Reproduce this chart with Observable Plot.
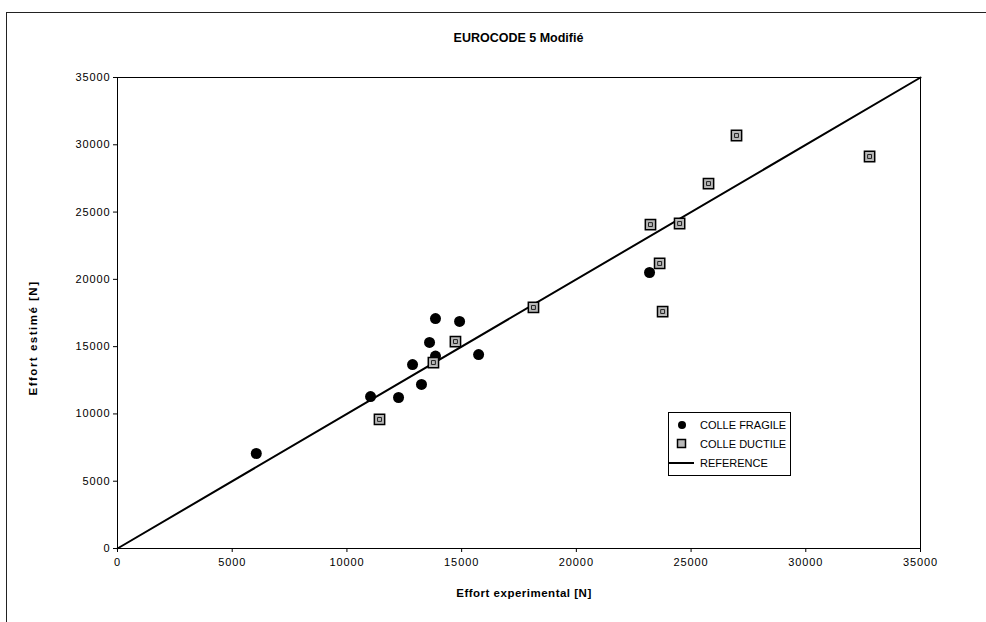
<!DOCTYPE html>
<html>
<head>
<meta charset="utf-8">
<script src="https://cdn.jsdelivr.net/npm/d3@7"></script>
<script src="https://cdn.jsdelivr.net/npm/@observablehq/plot@0.6"></script>
<style>
  html, body { margin: 0; padding: 0; background: #fff; }
  #wrap { position: relative; width: 986px; height: 622px; font-family: "Liberation Sans", Arial, sans-serif; }
  #frame { position: absolute; left: 6px; top: 12px; width: 986px; height: 620px; border-top: 1px solid #222; border-left: 1px solid #222; }
  #title { position: absolute; left: 0; width: 1037px; top: 31px; text-align: center; font-weight: bold; font-size: 12.5px; color: #000; }
  #legend { position: absolute; left: 668px; top: 412px; width: 121px; height: 62px; border: 1px solid #000; background: #fff; font-size: 11px; }
  .row { position: absolute; left: 0; height: 16px; line-height: 16px; }
  .row span { position: absolute; left: 31px; white-space: nowrap; }
  svg.plot { position: absolute; left: 0; top: 0; }
</style>
</head>
<body>
<div id="wrap">
  <div id="frame"></div>
  <div id="title">EUROCODE 5 Modifié</div>
</div>
<script>
// Data
const fragileX = [6050, 11030, 12250, 12860, 13250, 13600, 13860, 13860, 14910, 15740, 23190];
const fragileY = [7060, 11290, 11220, 13670, 12190, 15310, 17090, 14300, 16870, 14410, 20510];
const ductileX = [11420, 13770, 14730, 18130, 23230, 23630, 23760, 24500, 25760, 26980, 32780];
const ductileY = [9590, 13820, 15380, 17910, 24070, 21180, 17610, 24150, 27120, 30690, 29130];
const refX = [0, 35000];
const refY = [0, 35000];
const xTicks = [0, 5000, 10000, 15000, 20000, 25000, 30000, 35000];
const yTicks = [0, 5000, 10000, 15000, 20000, 25000, 30000, 35000];
const seriesNames = ["COLLE FRAGILE", "COLLE DUCTILE", "REFERENCE"];
const xTitle = "Effort experimental [N]";
const yTitle = "Effort estimé [N]";

const fragile = fragileX.map((x, i) => ({x, y: fragileY[i]}));
const ductile = ductileX.map((x, i) => ({x, y: ductileY[i]}));
const ref = refX.map((x, i) => ({x, y: refY[i]}));

const chart = Plot.plot({
  width: 986,
  height: 622,
  marginLeft: 117,
  marginRight: 66,
  marginTop: 77,
  marginBottom: 74,
  style: {fontFamily: "'Liberation Sans', Arial, sans-serif", fontSize: "11px", color: "#000", background: "transparent"},
  x: {domain: [0, 35000], ticks: xTicks, tickFormat: d => String(d), label: null, tickSize: 4, tickPadding: 6},
  y: {domain: [0, 35000], ticks: yTicks, tickFormat: d => String(d), label: null, tickSize: 4, tickPadding: 3},
  marks: [
    Plot.frame({stroke: "#000", strokeWidth: 1}),
    Plot.line(ref, {x: "x", y: "y", stroke: "#000", strokeWidth: 2}),
    Plot.dot(fragile, {x: "x", y: "y", r: 5.5, fill: "#000", stroke: "none"}),
    Plot.dot(ductile, {x: "x", y: "y", r: 5.8, symbol: "square", fill: "#b8b8b8", stroke: "#000", strokeWidth: 1.5}),
    Plot.dot(ductile, {x: "x", y: "y", r: 2.2, symbol: "square", fill: "none", stroke: "#222", strokeWidth: 1})
  ]
});
chart.classList.add("plot");
chart.querySelectorAll("[aria-label='x-axis tick label'], [aria-label='y-axis tick label']").forEach(g => {
  g.setAttribute("letter-spacing", "0.9");
});
// axis titles
const svg = d3.select(chart);
svg.append("text")
  .attr("x", 524).attr("y", 597)
  .attr("text-anchor", "middle")
  .attr("font-weight", "bold").attr("font-size", 11.5).attr("letter-spacing", 0.5)
  .attr("fill", "#000")
  .text(xTitle);
svg.append("text")
  .attr("transform", "translate(37,338) rotate(-90)")
  .attr("text-anchor", "middle")
  .attr("font-weight", "bold").attr("font-size", 11.5).attr("letter-spacing", 1.5)
  .attr("fill", "#000")
  .text(yTitle);
document.getElementById("wrap").appendChild(chart);

// Legend (HTML)
const legend = document.createElement("div");
legend.id = "legend";
const rows = [
  {name: seriesNames[0], sym: '<svg width="12" height="12" style="position:absolute;left:7px;top:2px"><circle cx="6" cy="6" r="4" fill="#000"/></svg>'},
  {name: seriesNames[1], sym: '<svg width="12" height="12" style="position:absolute;left:7px;top:2px"><rect x="1.5" y="1.5" width="8" height="8" fill="#b8b8b8" stroke="#000" stroke-width="1.5"/></svg>'},
  {name: seriesNames[2], sym: '<svg width="26" height="12" style="position:absolute;left:0px;top:2px"><line x1="0" y1="6" x2="25" y2="6" stroke="#000" stroke-width="2"/></svg>'}
];
rows.forEach((r, i) => {
  const d = document.createElement("div");
  d.className = "row";
  d.style.top = (4 + i * 19) + "px";
  d.style.width = "121px";
  d.innerHTML = r.sym + "<span>" + r.name + "</span>";
  legend.appendChild(d);
});
document.getElementById("wrap").appendChild(legend);
</script>
</body>
</html>
